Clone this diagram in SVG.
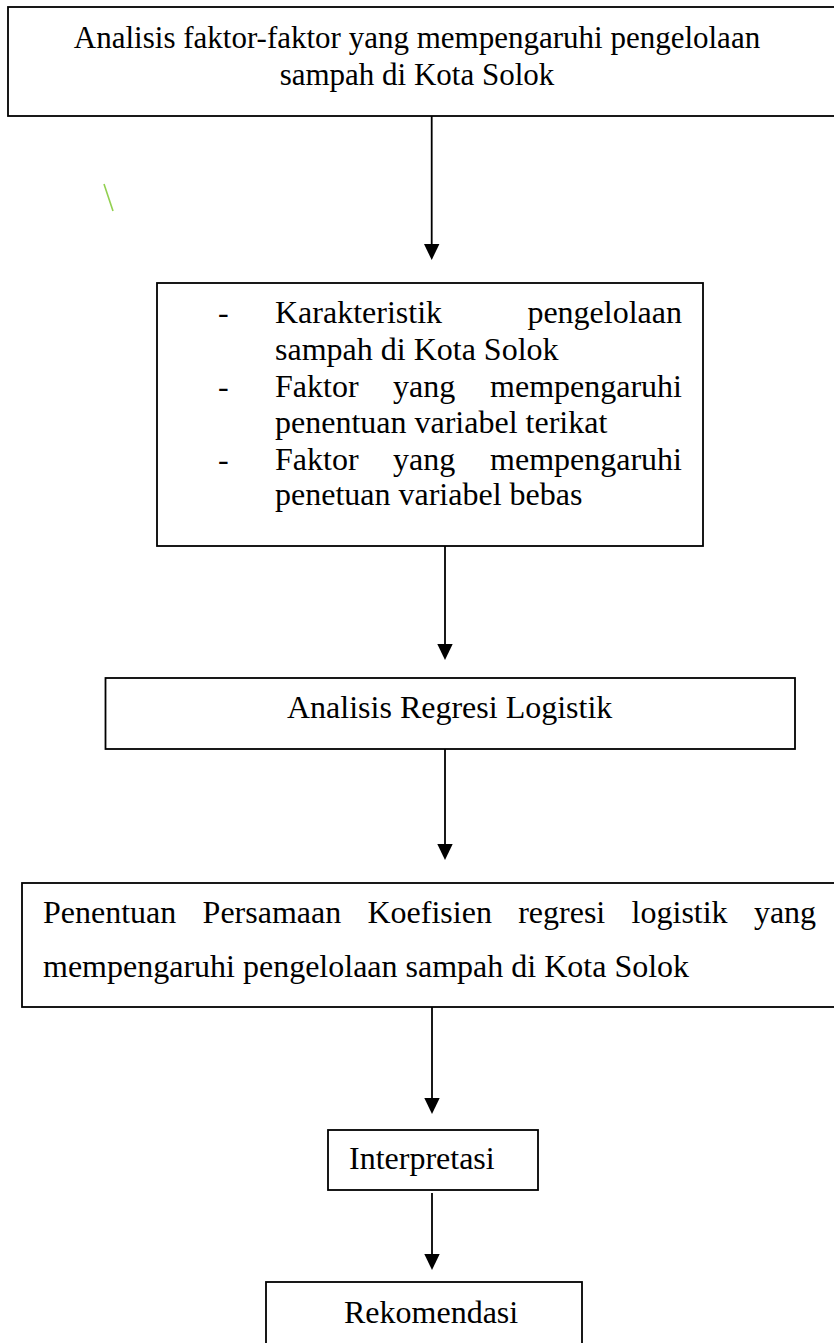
<svg xmlns="http://www.w3.org/2000/svg" width="834" height="1343" viewBox="0 0 834 1343">
<style>
.box{fill:#fff;stroke:#000;stroke-width:1.8}
.t{font-family:"Liberation Serif","Times New Roman",serif;font-size:32px;fill:#000}
.c{stroke:#000;stroke-width:1.8;fill:none}
.h{fill:#000}
</style>
<rect width="834" height="1343" fill="#fff"/>
<g id="node1">
<rect class="box" x="8" y="7" width="840" height="109"/>
<text class="t" x="417" y="48" text-anchor="middle" style="font-size:31px">Analisis faktor-faktor yang mempengaruhi pengelolaan</text>
<text class="t" x="417" y="85" text-anchor="middle" style="font-size:31px">sampah di Kota Solok</text>
</g>
<line x1="104" y1="184" x2="113" y2="211" stroke="#92D050" stroke-width="1.6"/>
<g id="node2">
<rect class="box" x="157" y="283" width="546" height="263"/>
<text class="t" x="218" y="323">-</text>
<text class="t" x="275" y="323">Karakteristik</text>
<text class="t" x="682" y="323" text-anchor="end">pengelolaan</text>
<text class="t" x="275" y="360">sampah di Kota Solok</text>
<text class="t" x="218" y="397">-</text>
<text class="t" x="275" y="397">Faktor</text>
<text class="t" x="393" y="397">yang</text>
<text class="t" x="682" y="397" text-anchor="end">mempengaruhi</text>
<text class="t" x="275" y="433">penentuan variabel terikat</text>
<text class="t" x="218" y="470">-</text>
<text class="t" x="275" y="470">Faktor</text>
<text class="t" x="393" y="470">yang</text>
<text class="t" x="682" y="470" text-anchor="end">mempengaruhi</text>
<text class="t" x="275" y="505">penetuan variabel bebas</text>
</g>
<g id="node3">
<rect class="box" x="105.5" y="678" width="689.5" height="71"/>
<text class="t" x="287" y="718">Analisis Regresi Logistik</text>
</g>
<g id="node4">
<rect class="box" x="22" y="883" width="830" height="124"/>
<text class="t" y="923"><tspan x="43">Penentuan</tspan><tspan x="202.6">Persamaan</tspan><tspan x="367.5">Koefisien</tspan><tspan x="518.2">regresi</tspan><tspan x="631.6">logistik</tspan><tspan x="753.9">yang</tspan></text>
<text class="t" x="43" y="977">mempengaruhi pengelolaan sampah di Kota Solok</text>
</g>
<g id="node5">
<rect class="box" x="328" y="1130" width="210" height="60"/>
<text class="t" x="349" y="1169">Interpretasi</text>
</g>
<g id="node6">
<rect class="box" x="266" y="1282" width="316" height="80"/>
<text class="t" x="344" y="1323">Rekomendasi</text>
</g>
<g id="connectors">
<line class="c" x1="431.7" y1="116" x2="431.7" y2="246"/>
<polygon class="h" points="424,244 439.4,244 431.7,260"/>
<line class="c" x1="445" y1="546" x2="445" y2="646"/>
<polygon class="h" points="437.3,644 452.7,644 445,660"/>
<line class="c" x1="445" y1="749" x2="445" y2="846"/>
<polygon class="h" points="437.3,844 452.7,844 445,860"/>
<line class="c" x1="432" y1="1007" x2="432" y2="1100"/>
<polygon class="h" points="424.3,1098 439.7,1098 432,1114"/>
<line class="c" x1="432" y1="1193" x2="432" y2="1256"/>
<polygon class="h" points="424.3,1254 439.7,1254 432,1270"/>
</g>
</svg>
